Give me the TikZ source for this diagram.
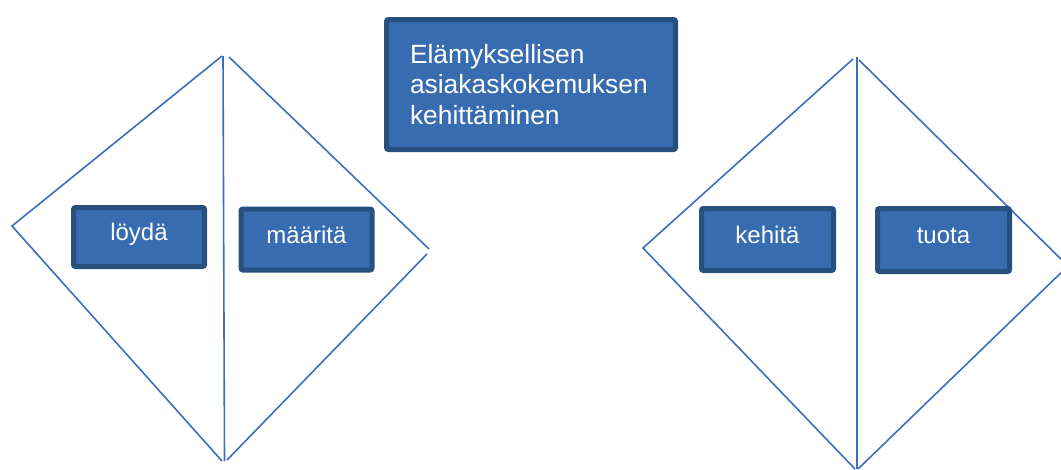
\documentclass[tikz,border=0pt]{standalone}
\usepackage{fontspec}
\setmainfont{Liberation Sans}
\definecolor{boxfill}{HTML}{376CB0}
\definecolor{boxedge}{HTML}{27507F}
\definecolor{frameline}{HTML}{3B6EBC}
\begin{document}
\begin{tikzpicture}[x=1pt,y=-1pt,
  stagebox/.style={draw=boxedge, fill=boxfill, line width=5pt, rounded corners=2pt,
    text=white, font=\fontsize{24}{28}\selectfont, inner sep=0pt,
    text height=17pt, text depth=10pt,
    minimum width=131pt, minimum height=60pt},
  titlebox/.style={draw=boxedge, fill=boxfill, line width=5pt, rounded corners=2pt,
    text=white, font=\fontsize{26.4}{30.5}\selectfont, align=left,
    text width=242pt, inner xsep=23.5pt, inner ysep=0pt,
    minimum width=289pt, minimum height=130pt},
  edge/.style={frameline, line width=1.6pt}]
\useasboundingbox (0,0) rectangle (1061,469);

% left diamond: discover / define
\coordinate (lw)  at (12,226);
\coordinate (lnl) at (222,56);
\coordinate (lsl) at (222,461);
\coordinate (lnv) at (223,56);
\coordinate (lsv) at (224.5,461);
\coordinate (lnr) at (229,57);
\coordinate (le1) at (429,249);
\coordinate (le2) at (427,254);
\coordinate (lsr) at (227,460);
\draw[edge] (lnl) -- (lw) -- (lsl);
\draw[edge] (lnv) -- (lsv);
\draw[edge] (lnr) -- (le1);
\draw[edge] (le2) -- (lsr);

% right diamond: develop / deliver
\coordinate (rw)  at (643,248);
\coordinate (rnl) at (853,59);
\coordinate (rsl) at (855,469);
\coordinate (rnv) at (857,57);
\coordinate (rsv) at (857,469);
\coordinate (rnr) at (859,60);
\coordinate (re)  at (1068,266);
\coordinate (rsr) at (858,469);
\draw[edge] (rnl) -- (rw) -- (rsl);
\draw[edge] (rnv) -- (rsv);
\draw[edge] (rnr) -- (re) -- (rsr);

% boxes
\node[titlebox] (goal) at (531,84.5) {Elämyksellisen\\asiakaskokemuksen\\kehittäminen};
\node[stagebox, minimum height=59pt] (find) at (139,237) {löydä};
\node[stagebox, minimum height=61pt] (define) at (306.5,239.5) {määritä};
\node[stagebox, minimum width=132pt, minimum height=62pt] (develop) at (767.5,239.5) {kehitä};
\node[stagebox, minimum width=132pt, minimum height=63pt] (deliver) at (943.5,240) {tuota};
\end{tikzpicture}
\end{document}
